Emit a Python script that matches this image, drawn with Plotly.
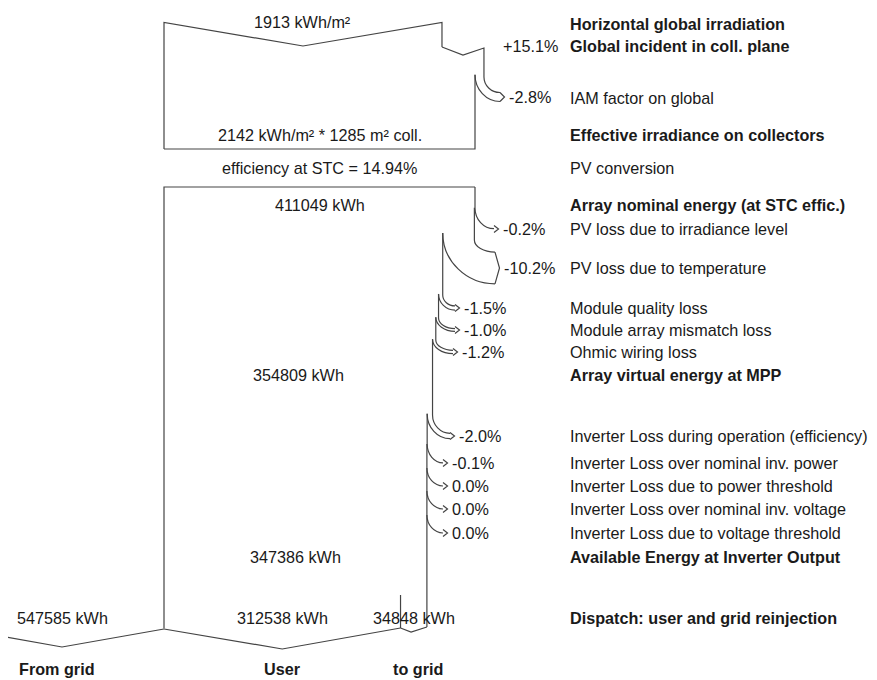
import plotly.graph_objects as go

# ---------------- data ----------------
horiz_irr = 1913            # kWh/m²
incident_gain_pct = 15.1    # %
iam_loss_pct = -2.8         # %
eff_irr = 2142              # kWh/m²
coll_area = 1285            # m²
stc_eff_pct = 14.94         # %
nominal_energy = 411049     # kWh

array_loss_labels = ["PV loss due to irradiance level", "PV loss due to temperature",
                     "Module quality loss", "Module array mismatch loss", "Ohmic wiring loss"]
array_loss_pct = [-0.2, -10.2, -1.5, -1.0, -1.2]
virtual_energy = 354809     # kWh

inv_loss_labels = ["Inverter Loss during operation (efficiency)",
                   "Inverter Loss over nominal inv. power",
                   "Inverter Loss due to power threshold",
                   "Inverter Loss over nominal inv. voltage",
                   "Inverter Loss due to voltage threshold"]
inv_loss_pct = [-2.0, -0.1, 0.0, 0.0, 0.0]
inverter_output = 347386    # kWh

from_grid = 547585          # kWh
to_user = 312538            # kWh
to_grid = 34848             # kWh

# ---------------- layout / style ----------------
W, H = 877, 680
PAGE_MARGIN = 8     # default body margin of the html page
X0 = 164            # left edge of the flow
BOX_W = 311         # px width of effective irradiance / nominal energy
LINE = dict(color="#444444", width=1.2)
FONT = "Liberation Sans, Arial, sans-serif"
FS = 16.2
TXT = "#1a1a1a"
LABEL_X = 568

shapes = []
annotations = []


def seg(pts):
    d = "M " + " L ".join(f"{x:.2f},{y:.2f}" for x, y in pts)
    shapes.append(dict(type="path", path=d, line=LINE, xref="x", yref="y"))


def curve(x0, y0, x1, y1, k=0.55):
    d = (f"M {x0:.2f},{y0:.2f} C {x0:.2f},{y0 + k * (y1 - y0):.2f} "
         f"{x1 - k * (x1 - x0):.2f},{y1:.2f} {x1:.2f},{y1:.2f}")
    shapes.append(dict(type="path", path=d, line=LINE, xref="x", yref="y"))


def text(x, y, s, anchor="left", bold=False, size=FS):
    annotations.append(dict(x=x, y=y, xref="x", yref="y", text=f"<b>{s}</b>" if bold else s,
                            showarrow=False, xanchor=anchor, yanchor="middle",
                            font=dict(family=FONT, size=size, color=TXT)))


def pct(p):
    return "0.0%" if p == 0 else f"{p:+.1f}%"


def loss_arrow(xR, w, ys, ym, xe, pct_val):
    ys_in = ys - min(7.0, 0.25 * w)
    curve(xR, ys, xe, ym - w / 2)
    if w > 0.8:
        curve(xR - w, ys_in, xe, ym + w / 2)
    h = max(0.0, 3.5 - w / 2)
    seg([(xe, ym - w / 2 - h), (xe + 4.5, ym), (xe, ym + w / 2 + h)])
    text(xe + 7, ym, pct(pct_val))
    return ys_in


# ---------------- widths from data ----------------
W_eff = BOX_W
W_gain = W_eff / (1 + iam_loss_pct / 100)
W_horiz = W_gain / (1 + incident_gain_pct / 100)

# ---------------- top block (irradiance) ----------------
Y_TOP = 22.5
seg([(X0, 149), (X0, Y_TOP), (X0 + W_horiz / 2, 46), (X0 + W_horiz, Y_TOP), (X0 + W_horiz, 47)])
# gain notch
seg([(X0 + W_horiz, 47), ((2 * X0 + W_horiz + W_gain) / 2, 55), (X0 + W_gain, 48), (X0 + W_gain, 77)])
text(X0 + W_horiz / 2, 22, f"{horiz_irr} kWh/m²", anchor="center")
text(560, 46, pct(incident_gain_pct), anchor="right")
# IAM loss
w_iam = W_gain - W_eff
ys_in = loss_arrow(X0 + W_gain, w_iam, 77, 97, 500, iam_loss_pct)
seg([(X0 + W_eff, ys_in), (X0 + W_eff, 149), (X0, 149)])
text(X0 + W_eff / 2, 135, f"{eff_irr} kWh/m² * {coll_area} m² coll.", anchor="center")
text(X0 + W_eff / 2, 168, f"efficiency at STC = {stc_eff_pct:.2f}%", anchor="center")

# ---------------- array block ----------------
Y_BOX2 = 187
seg([(X0, 628.5), (X0, Y_BOX2), (X0 + BOX_W, Y_BOX2)])
text(X0 + BOX_W / 2, 205, f"{nominal_energy} kWh", anchor="center")

array_ys = [208, 240, 295, 318, 340]
array_ym = [229, 268, 308, 330, 352]
array_xe = [494, 495, 455, 455, 453]
w_cur = BOX_W
top = Y_BOX2
for p, ys, ym, xe, lab in zip(array_loss_pct, array_ys, array_ym, array_xe, array_loss_labels):
    seg([(X0 + w_cur, top), (X0 + w_cur, ys)])
    lw = w_cur * (-p / 100)
    top = loss_arrow(X0 + w_cur, lw, ys, ym, xe, p)
    w_cur -= lw
    text(LABEL_X, ym, lab)
W_virtual = w_cur
text(X0 + W_virtual / 2, 375, f"{virtual_energy} kWh", anchor="center")

inv_ys = [415, 444, 468, 491, 515]
inv_ym = [436, 463, 486, 509, 533]
inv_xe = [450, 443, 443, 443, 443]
for p, ys, ym, xe, lab in zip(inv_loss_pct, inv_ys, inv_ym, inv_xe, inv_loss_labels):
    seg([(X0 + w_cur, top), (X0 + w_cur, ys)])
    lw = w_cur * (-p / 100)
    top = loss_arrow(X0 + w_cur, lw, ys, ym, xe, p)
    w_cur -= lw
    text(LABEL_X, ym, lab)
W_inv = w_cur
text(X0 + W_inv / 2, 557, f"{inverter_output} kWh", anchor="center")

# ---------------- dispatch ----------------
W_user = W_inv * to_user / (to_user + to_grid)
seg([(X0 + W_inv, top), (X0 + W_inv, 627)])
seg([(X0 + W_user, 595), (X0 + W_user, 628)])
seg([(X0, 629), (X0 + W_user / 2, 649), (X0 + W_user, 628)])
seg([(X0 + W_user, 628), (X0 + W_user + (W_inv - W_user) * 0.4, 632), (X0 + W_inv, 627)])
FG_W = 2 * (X0 - 62)   # from-grid flow drawn with a fixed (not to scale) width
seg([(X0 - FG_W, 629), (X0 - FG_W / 2, 647), (X0, 629)])

text(X0 - FG_W / 2, 618, f"{from_grid} kWh", anchor="center")
text(X0 + W_user / 2, 618, f"{to_user} kWh", anchor="center")
text(X0 + (W_user + W_inv) / 2, 618, f"{to_grid} kWh", anchor="center")
text(57, 669, "From grid", anchor="center", bold=True)
text(X0 + W_user / 2, 669, "User", anchor="center", bold=True)
text(418, 669, "to grid", anchor="center", bold=True)

# ---------------- right-hand description column ----------------
text(LABEL_X, 24, "Horizontal global irradiation", bold=True)
text(LABEL_X, 46, "Global incident in coll. plane", bold=True)
text(LABEL_X, 98, "IAM factor on global")
text(LABEL_X, 135, "Effective irradiance on collectors", bold=True)
text(LABEL_X, 168, "PV conversion")
text(LABEL_X, 205, "Array nominal energy (at STC effic.)", bold=True)
text(LABEL_X, 375, "Array virtual energy at MPP", bold=True)
text(LABEL_X, 557, "Available Energy at Inverter Output", bold=True)
text(LABEL_X, 618, "Dispatch: user and grid reinjection", bold=True)

fig = go.Figure()
fig.update_layout(
    width=W - PAGE_MARGIN, height=H - PAGE_MARGIN,
    margin=dict(l=0, r=0, t=0, b=0),
    paper_bgcolor="white", plot_bgcolor="white",
    xaxis=dict(range=[PAGE_MARGIN, W], visible=False, fixedrange=True),
    yaxis=dict(range=[H, PAGE_MARGIN], visible=False, fixedrange=True),
    shapes=shapes, annotations=annotations, showlegend=False,
)
fig.write_html("out.html", config={"displayModeBar": False})
